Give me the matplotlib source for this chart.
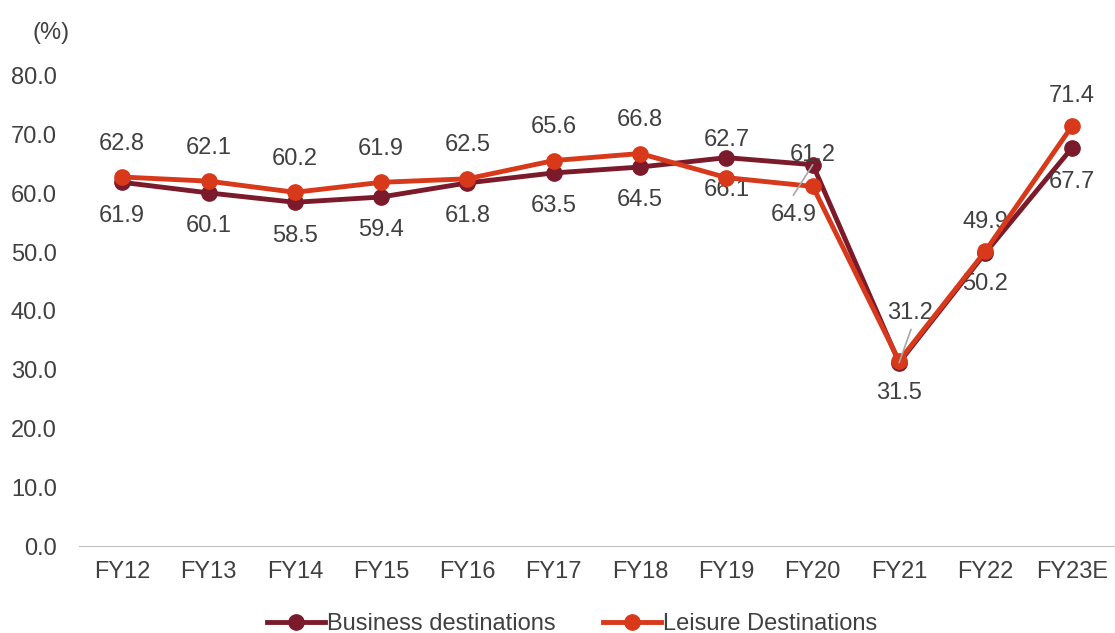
import matplotlib
matplotlib.use("Agg")
from matplotlib import pyplot as plt

plt.rcParams['font.family'] = ['Liberation Sans', 'DejaVu Sans']

years = ["FY12", "FY13", "FY14", "FY15", "FY16", "FY17", "FY18",
		 "FY19", "FY20", "FY21", "FY22", "FY23E"]
business = [61.9, 60.1, 58.5, 59.4, 61.8, 63.5, 64.5, 66.1, 64.9, 31.2, 49.9, 67.7]
leisure = [62.8, 62.1, 60.2, 61.9, 62.5, 65.6, 66.8, 62.7, 61.2, 31.5, 50.2, 71.4]

# label offsets in points (dx, dy) -- placement only
business_off = [(0, -24)] * 7 + [(0, -23), (-14, -36), (8, 36), (0, 22), (0, -24)]
leisure_off = [(0, 24)] * 7 + [(0, 27), (0, 22.5), (0, -23), (0, -24), (0, 22)]

BUS_COLOR = "#7b1a2a"
LEI_COLOR = "#d8391a"
TEXT_COLOR = "#404040"
FS = 17

fig = plt.figure(figsize=(11.15, 6.33), dpi=100)
ax = fig.add_axes([0.0709, 0.1374, 0.929, 0.7426])

x = list(range(len(years)))
ax.plot(x, business, color=BUS_COLOR, lw=3.5, marker="o", ms=11,
		label="Business destinations", zorder=3)
ax.plot(x, leisure, color=LEI_COLOR, lw=3.5, marker="o", ms=11,
		label="Leisure Destinations", zorder=4)

for i in x:
	ax.annotate("{:.1f}".format(business[i]), (i, business[i]),
				xytext=business_off[i], textcoords="offset points",
				ha="center", va="center", fontsize=FS, color=TEXT_COLOR)
	ax.annotate("{:.1f}".format(leisure[i]), (i, leisure[i]),
				xytext=leisure_off[i], textcoords="offset points",
				ha="center", va="center", fontsize=FS, color=TEXT_COLOR)

# leader lines for crowded labels
ax.annotate("", (8, business[8]), xytext=(-14, -22), textcoords="offset points",
			arrowprops=dict(arrowstyle="-", color="#a6a6a6", lw=1.2,
							shrinkA=0, shrinkB=0), zorder=5)
ax.annotate("", (9, business[9]), xytext=(8.6, 24), textcoords="offset points",
			arrowprops=dict(arrowstyle="-", color="#a6a6a6", lw=1.2,
							shrinkA=0, shrinkB=0), zorder=5)

ax.set_xlim(-0.5, len(years) - 0.5)
ax.set_ylim(0, 80)
ax.set_yticks(range(0, 81, 10))
ax.set_yticklabels(["{:.1f}".format(v) for v in range(0, 81, 10)])
ax.set_xticks(x)
ax.set_xticklabels(years)
ax.tick_params(axis="both", length=0, labelsize=FS, labelcolor=TEXT_COLOR)
ax.tick_params(axis="y", pad=16)
ax.tick_params(axis="x", pad=11)

for s in ["top", "right", "left"]:
	ax.spines[s].set_visible(False)
ax.spines["bottom"].set_color("#bfbfbf")

fig.text(0.046, 0.948, "(%)", fontsize=FS, color=TEXT_COLOR, ha="center", va="center")

fig.legend(loc="center", bbox_to_anchor=(0.513, 0.014), ncol=2, frameon=False,
		   fontsize=FS, labelcolor=TEXT_COLOR, handlelength=2.45,
		   handletextpad=0.1, columnspacing=2.0, markerscale=1.0)

plt.savefig("out.png", dpi=100)
plt.close()
